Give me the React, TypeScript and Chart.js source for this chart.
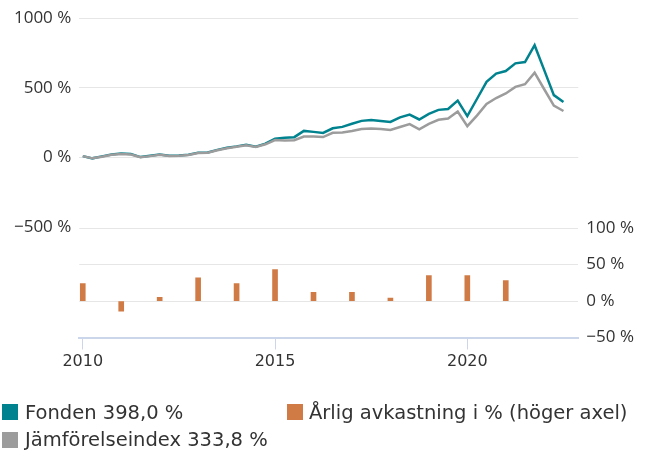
import React, { useEffect, useRef } from 'react';
import { Chart, registerables } from 'chart.js';

Chart.register(...registerables);

// Quarterly dates (decimal years) for the two cumulative series
const quarterDates = [
  2010.0, 2010.25, 2010.5, 2010.75, 2011.0, 2011.25, 2011.5, 2011.75,
  2012.0, 2012.25, 2012.5, 2012.75, 2013.0, 2013.25, 2013.5, 2013.75,
  2014.0, 2014.25, 2014.5, 2014.75, 2015.0, 2015.25, 2015.5, 2015.75,
  2016.0, 2016.25, 2016.5, 2016.75, 2017.0, 2017.25, 2017.5, 2017.75,
  2018.0, 2018.25, 2018.5, 2018.75, 2019.0, 2019.25, 2019.5, 2019.75,
  2020.0, 2020.25, 2020.5, 2020.75, 2021.0, 2021.25, 2021.5, 2021.75,
  2022.0, 2022.25, 2022.5,
];

const fondValues = [
  10, -6, 8, 22, 28, 25, 3, 12, 21, 12,
  15, 20, 35, 36, 55, 70, 80, 92, 78, 100,
  135, 142, 146, 191, 184, 176, 210, 220, 242, 263,
  270, 262, 255, 288, 308, 273, 313, 342, 348, 408,
  297, 420, 543, 602, 621, 676, 685, 806, 627, 448,
  398.0,
];

const indexValues = [
  10, -6, 6, 20, 26, 22, 2, 10, 19, 11,
  13, 18, 33, 34, 52, 67, 77, 88, 75, 95,
  125, 122, 124, 151, 150, 147, 177, 180, 190, 204,
  209, 205, 198, 219, 240, 202, 242, 271, 280, 330,
  225, 301, 384, 427, 460, 507, 526, 609, 490, 372,
  333.8,
];

// Annual returns (right axis)
const barYears = [2010, 2011, 2012, 2013, 2014, 2015, 2016, 2017, 2018, 2019, 2020, 2021];
const barValues = [24, -14, 5, 32, 24, 43, 12, 12, 4, 35, 35, 28];

const leftTicks = [-500, 0, 500, 1000];
const rightTicks = [-50, 0, 50, 100];
const xTicks = [2010, 2015, 2020];

const seriesNames = ['Fonden', 'Jämförelseindex', 'Årlig avkastning i % (höger axel)'];

const TEAL = '#00838f';
const GRAY = '#9c9c9c';
const ORANGE = '#d07b46';
const TEXT = '#333333';

const pct = (v: number) => (v < 0 ? '\u2212' : '') + Math.abs(v) + ' %';
const legendPct = (v: number) => v.toFixed(1).replace('.', ',') + ' %';

export default function App() {
  const ref = useRef<HTMLCanvasElement | null>(null);

  useEffect(() => {
    if (!ref.current) return;
    const yFont = { family: '"Open Sans"', size: 17 };
    const chart = new Chart(ref.current, {
      type: 'line',
      data: {
        datasets: [
          {
            type: 'line',
            label: seriesNames[1],
            data: quarterDates.map((x, i) => ({ x, y: indexValues[i] })),
            borderColor: GRAY,
            backgroundColor: GRAY,
            borderWidth: 2.5,
            pointRadius: 0,
            tension: 0,
            yAxisID: 'y',
            order: 1,
          },
          {
            type: 'line',
            label: seriesNames[0],
            data: quarterDates.map((x, i) => ({ x, y: fondValues[i] })),
            borderColor: TEAL,
            backgroundColor: TEAL,
            borderWidth: 2.5,
            pointRadius: 0,
            tension: 0,
            yAxisID: 'y',
            order: 2,
          },
          {
            type: 'bar',
            label: seriesNames[2],
            data: barYears.map((x, i) => ({ x, y: barValues[i] })),
            backgroundColor: ORANGE,
            barThickness: 5,
            yAxisID: 'y1',
            order: 3,
          },
        ] as any,
      },
      options: {
        animation: false,
        responsive: false,
        maintainAspectRatio: false,
        layout: { padding: { top: 15, bottom: 72.5, left: 0, right: 0 } },
        plugins: { legend: { display: false }, tooltip: { enabled: false } },
        scales: {
          x: {
            type: 'linear',
            min: 2009.91,
            max: 2022.886,
            offset: false,
            afterBuildTicks: (s: any) => {
              s.ticks = xTicks.map((v) => ({ value: v }));
            },
            afterFit: (s: any) => {
              s.height = 40;
            },
            grid: {
              offset: false,
              drawOnChartArea: false,
              drawTicks: true,
              tickLength: 12,
              color: '#ccd6eb',
              lineWidth: 1,
            },
            border: { display: true, color: '#ccd6eb', width: 2 },
            ticks: {
              font: { family: '"DejaVu Sans"', size: 16 },
              color: TEXT,
              padding: 3,
              maxRotation: 0,
              autoSkip: false,
              callback: (v: any) => String(v),
            },
          },
          y: {
            type: 'linear',
            position: 'left',
            min: -1292,
            max: 1000,
            afterBuildTicks: (s: any) => {
              s.ticks = leftTicks.map((v) => ({ value: v }));
            },
            afterFit: (s: any) => {
              s.width = 79.3;
            },
            grid: {
              drawTicks: false,
              lineWidth: 1,
              color: (ctx: any) =>
                ctx.tick && ctx.tick.value === -500 ? 'rgba(0,0,0,0)' : '#e6e6e6',
            },
            border: { display: false },
            ticks: {
              padding: 8,
              font: yFont,
              color: TEXT,
              callback: (v: any) => pct(Number(v)),
            },
          },
          y1: {
            type: 'linear',
            position: 'right',
            min: -50,
            max: 388,
            afterBuildTicks: (s: any) => {
              s.ticks = rightTicks.map((v) => ({ value: v }));
            },
            afterFit: (s: any) => {
              s.width = 66.7;
            },
            grid: {
              drawTicks: false,
              lineWidth: 1,
              color: (ctx: any) =>
                ctx.tick && ctx.tick.value === -50 ? 'rgba(0,0,0,0)' : '#e6e6e6',
            },
            border: { display: false },
            ticks: {
              padding: 8,
              font: yFont,
              color: TEXT,
              callback: (v: any) => pct(Number(v)),
            },
          },
        },
      } as any,
    });
    return () => chart.destroy();
  }, []);

  const legendFont: React.CSSProperties = {
    position: 'absolute',
    fontFamily: '"DejaVu Sans"',
    fontSize: '19.5px',
    lineHeight: '20px',
    color: TEXT,
    whiteSpace: 'nowrap',
  };
  const sq = (left: number, top: number, color: string): React.CSSProperties => ({
    position: 'absolute',
    left,
    top,
    width: 16,
    height: 16,
    background: color,
  });

  return (
    <div style={{ position: 'absolute', left: 0, top: 0, width: 645, height: 450, background: '#fff' }}>
      <canvas ref={ref} width={645} height={450} style={{ position: 'absolute', left: 0, top: 0, width: 645, height: 450 }} />
      <div style={sq(2, 404, TEAL)} />
      <div style={{ ...legendFont, left: 25, top: 402.5 }}>
        {seriesNames[0] + ' ' + legendPct(fondValues[fondValues.length - 1])}
      </div>
      <div style={sq(2, 431.5, GRAY)} />
      <div style={{ ...legendFont, left: 25, top: 430 }}>
        {seriesNames[1] + ' ' + legendPct(indexValues[indexValues.length - 1])}
      </div>
      <div style={sq(287, 404, ORANGE)} />
      <div style={{ ...legendFont, left: 309, top: 402.5 }}>{seriesNames[2]}</div>
    </div>
  );
}
